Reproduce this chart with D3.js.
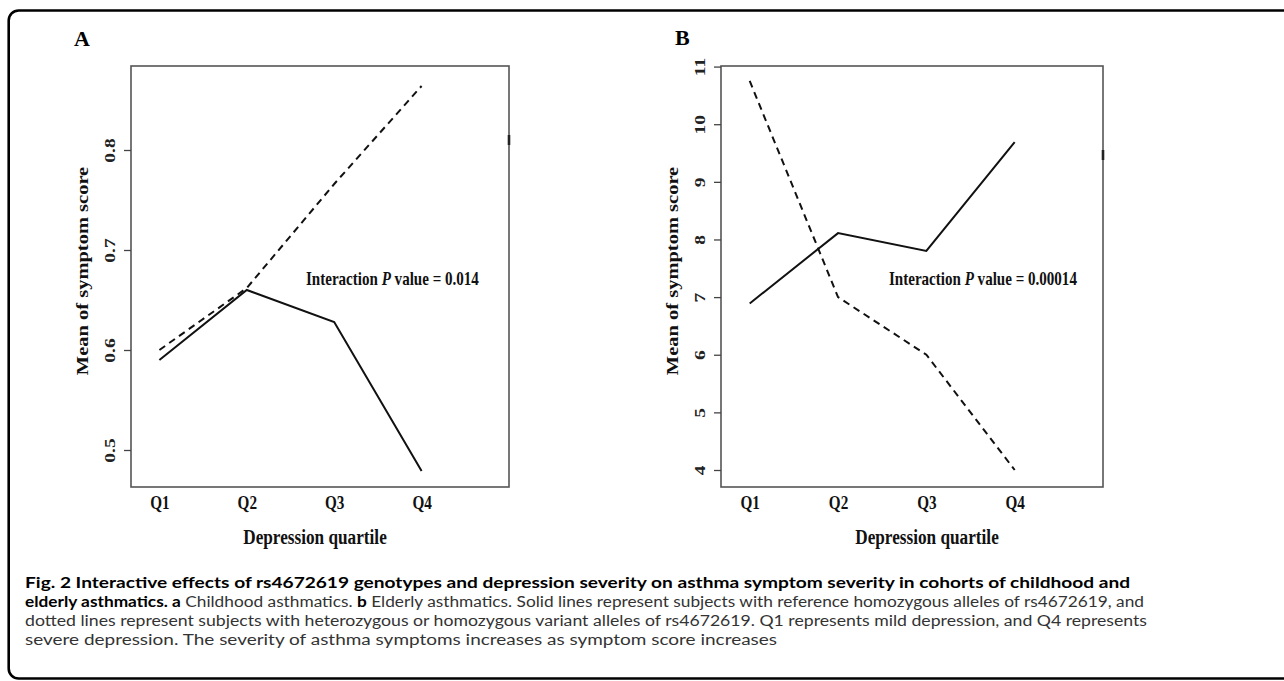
<!DOCTYPE html>
<html><head><meta charset="utf-8">
<script src="https://cdn.jsdelivr.net/npm/d3@7"></script>
<style>
html,body{margin:0;padding:0;background:#fff;}
svg{display:block;}
</style></head>
<body>
<svg id="chart" width="1284" height="681"></svg>
<script>
// ---- data ----
const quartiles = ["Q1","Q2","Q3","Q4"];
const childSolid  = [0.590, 0.660, 0.628, 0.479];
const childDashed = [0.600, 0.662, 0.766, 0.864];
const elderSolid  = [6.89, 8.11, 7.80, 9.69];
const elderDashed = [10.75, 7.00, 6.00, 4.00];
const childTicks = [0.5, 0.6, 0.7, 0.8];
const elderTicks = [4, 5, 6, 7, 8, 9, 10, 11];
const panelLetters = ["A","B"];
const pValues = ["0.014","0.00014"];
const yTitle = "Mean of symptom score";
const xTitle = "Depression quartile";

const svg = d3.select("#chart");
const serif = "'Liberation Serif','Times New Roman',serif";

// outer rounded frame
svg.append("rect").attr("x",8.7).attr("y",10.5).attr("width",1320).attr("height",668)
  .attr("rx",10).attr("ry",10).attr("fill","none").attr("stroke","#000").attr("stroke-width",2.6);

const panels = [
  {letter:panelLetters[0], lx:74, ly:46, box:[131,66,509,487], ydom:[0.463,0.884], ticks:childTicks,
   fmt:d3.format(".1f"), solid:childSolid, dashed:childDashed, p:pValues[0], px:306,
   ytx:88, xtx:315, mark:140},
  {letter:panelLetters[1], lx:675, ly:45, box:[721,66,1103,487], ydom:[3.705,11.01], ticks:elderTicks,
   fmt:d3.format("d"), solid:elderSolid, dashed:elderDashed, p:pValues[1], px:889,
   ytx:678, xtx:927, mark:155}
];

panels.forEach(P => {
  const [x0,y0,x1,y1] = P.box;
  const x = d3.scaleLinear().domain([0.675,5.0]).range([x0,x1]);
  const y = d3.scaleLinear().domain(P.ydom).range([y1,y0]);
  const g = svg.append("g");

  g.append("text").attr("x",P.lx).attr("y",P.ly).text(P.letter)
    .attr("font-family",serif).attr("font-weight","bold").attr("font-size",22);

  g.append("rect").attr("x",x0).attr("y",y0).attr("width",x1-x0).attr("height",y1-y0)
    .attr("fill","none").attr("stroke","#555").attr("stroke-width",1.6);
  g.append("line").attr("x1",x1).attr("x2",x1).attr("y1",P.mark-5).attr("y2",P.mark+5)
    .attr("stroke","#222").attr("stroke-width",2.6);

  const ya = g.append("g").attr("transform",`translate(${x0},0)`)
    .call(d3.axisLeft(y).tickValues(P.ticks).tickFormat(P.fmt).tickSize(7));
  ya.select(".domain").remove();
  ya.selectAll(".tick line").attr("stroke","#444").attr("stroke-width",1.3);
  ya.selectAll(".tick text")
    .attr("x",null).attr("dy",null).attr("y",null)
    .attr("transform","translate(-16,0) scale(0.8,1) rotate(-90)")
    .attr("text-anchor","middle")
    .attr("font-family",serif).attr("font-weight","bold").attr("font-size",19.5).attr("fill","#222");

  const xa = g.append("g").attr("transform",`translate(0,${y1})`)
    .call(d3.axisBottom(x).tickValues([1,2,3,4]).tickFormat((d,i)=>quartiles[i]).tickSize(0));
  xa.select(".domain").remove();
  xa.selectAll(".tick text").attr("y",22).attr("dy",0)
    .attr("font-family",serif).attr("font-weight","bold").attr("font-size",19).attr("fill","#111")
    .attr("transform","scale(0.8,1)");

  g.append("text").attr("transform",`translate(${P.ytx},271) scale(0.8,1) rotate(-90)`)
    .attr("text-anchor","middle").text(yTitle)
    .attr("font-family",serif).attr("font-weight","bold").attr("font-size",20.5).attr("fill","#111");
  g.append("text").attr("transform",`translate(${P.xtx},544) scale(0.84,1)`)
    .attr("text-anchor","middle").text(xTitle)
    .attr("font-family",serif).attr("font-weight","bold").attr("font-size",20.5).attr("fill","#111");

  const line = d3.line().x((d,i)=>x(i+1)).y(d=>y(d));
  g.append("path").attr("d",line(P.dashed)).attr("fill","none").attr("stroke","#111")
    .attr("stroke-width",2).attr("stroke-dasharray","7,5");
  g.append("path").attr("d",line(P.solid)).attr("fill","none").attr("stroke","#111")
    .attr("stroke-width",2);

  const t = g.append("text").attr("transform",`translate(${P.px},285) scale(0.81,1)`)
    .attr("font-family",serif).attr("font-weight","bold").attr("font-size",18.6).attr("fill","#111");
  t.append("tspan").text("Interaction ");
  t.append("tspan").attr("font-style","italic").text("P");
  t.append("tspan").text(" value = " + P.p);
});

// caption
const sans = "Lato,'Open Sans',sans-serif";
const capLines = [
  {y:588, len:1105, parts:[{b:true,t:"Fig. 2 Interactive effects of rs4672619 genotypes and depression severity on asthma symptom severity in cohorts of childhood and"}]},
  {y:607, len:1119, parts:[{b:true,t:"elderly asthmatics. a"},{b:false,t:" Childhood asthmatics. "},{b:true,t:"b"},{b:false,t:" Elderly asthmatics. Solid lines represent subjects with reference homozygous alleles of rs4672619, and"}]},
  {y:626, len:1122, parts:[{b:false,t:"dotted lines represent subjects with heterozygous or homozygous variant alleles of rs4672619. Q1 represents mild depression, and Q4 represents"}]},
  {y:645, len:752, parts:[{b:false,t:"severe depression. The severity of asthma symptoms increases as symptom score increases"}]}
];
capLines.forEach(L => {
  const t = svg.append("text").attr("x",25).attr("y",L.y)
    .attr("font-family",sans).attr("font-size",15.5)
    .attr("textLength",L.len).attr("lengthAdjust","spacingAndGlyphs");
  L.parts.forEach(p => {
    t.append("tspan").attr("font-weight",p.b?"bold":"normal").attr("fill",p.b?"#000":"#333").text(p.t);
  });
});
</script>
</body></html>
